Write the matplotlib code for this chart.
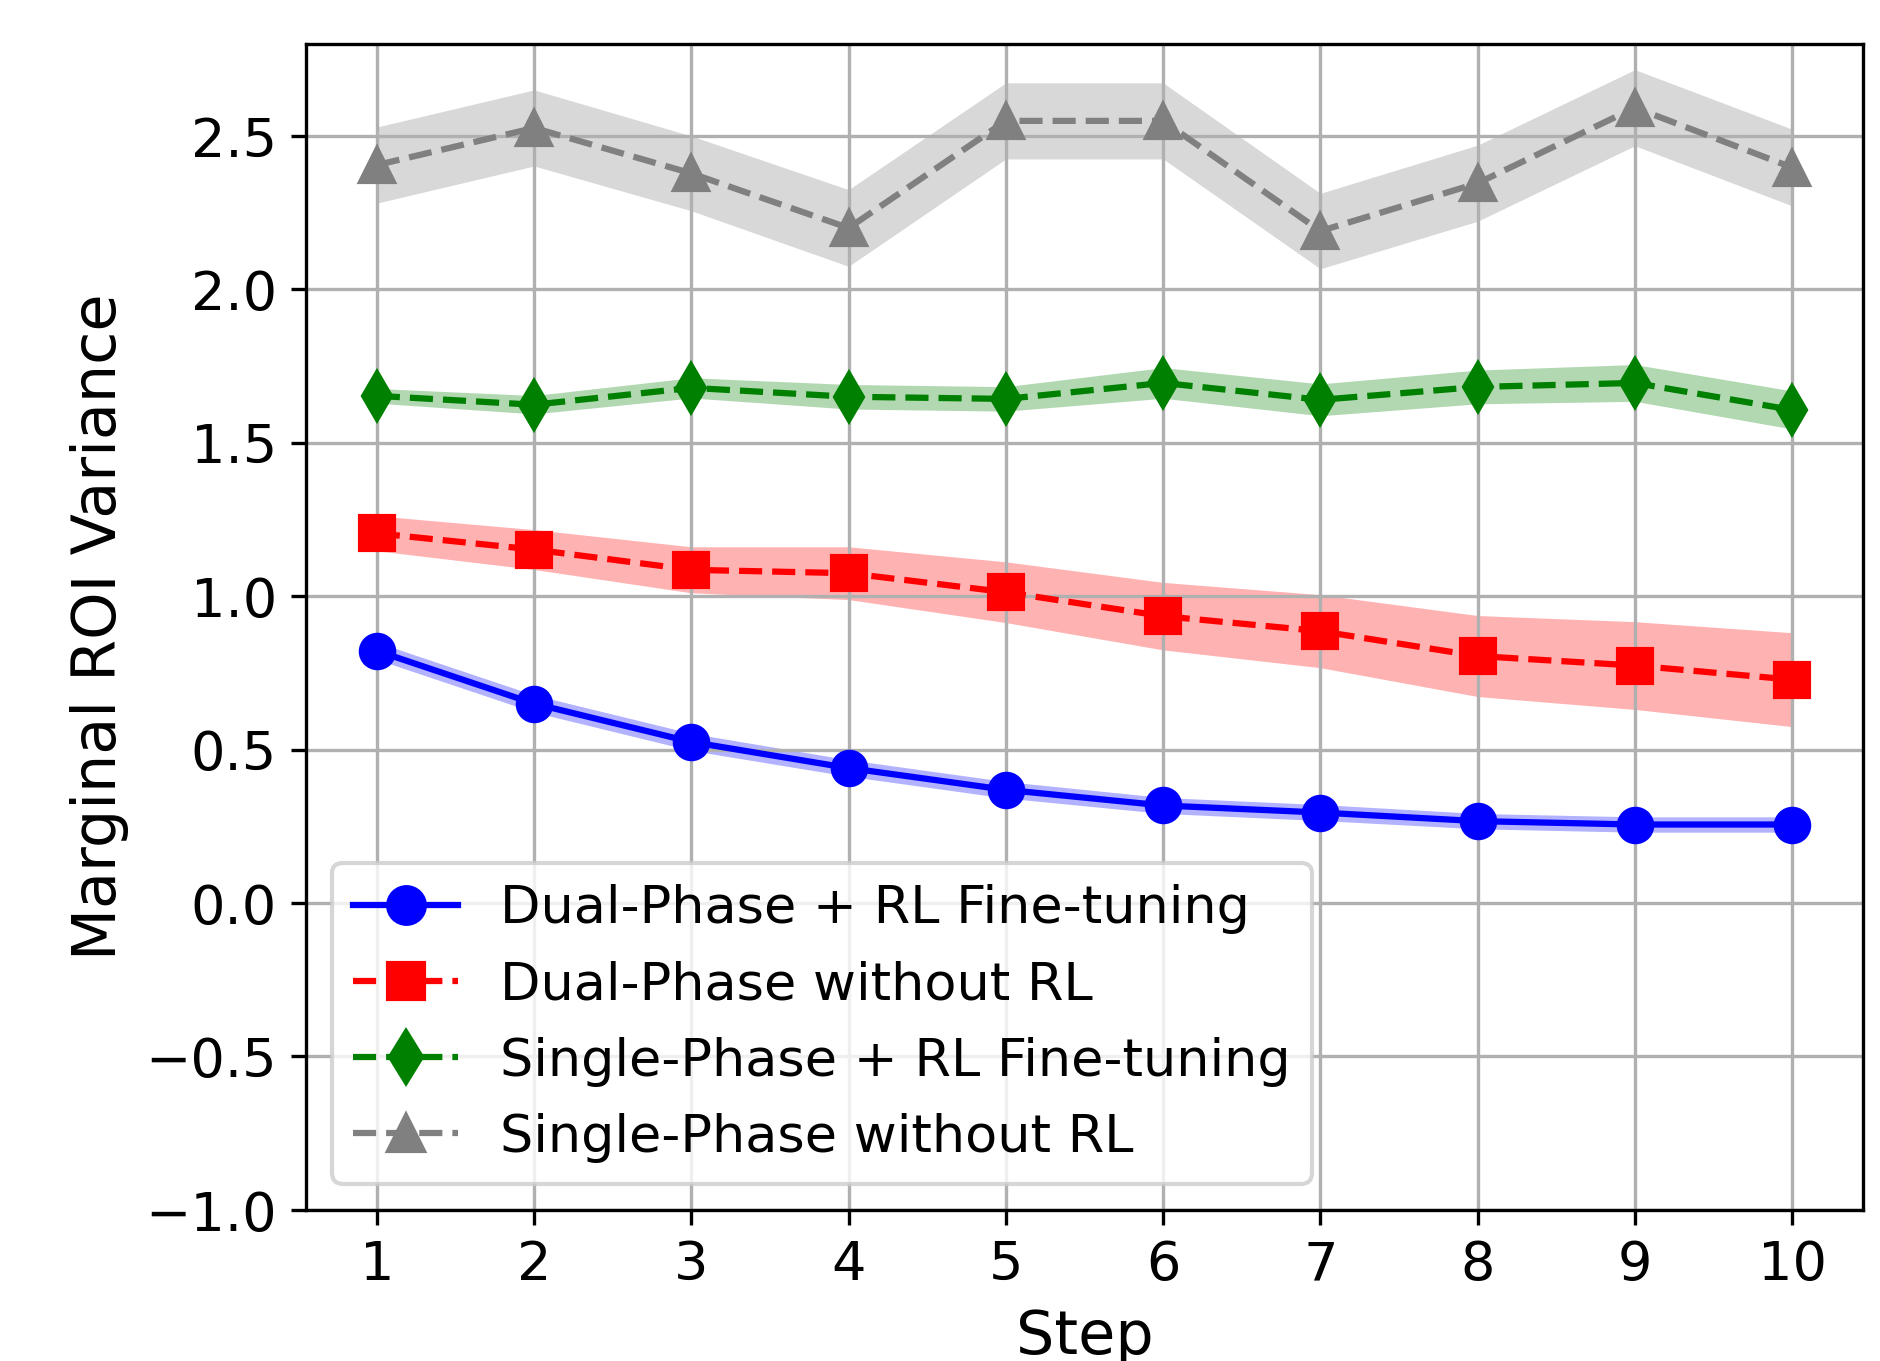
import numpy as np
import matplotlib
matplotlib.use("Agg")
import matplotlib.pyplot as plt

steps = np.arange(1, 11)

dual_rl = [0.822, 0.650, 0.525, 0.440, 0.369, 0.318, 0.295, 0.267, 0.256, 0.256]
dual_rl_std = [0.028, 0.028, 0.028, 0.027, 0.027, 0.026, 0.026, 0.025, 0.025, 0.025]

dual_norl = [1.205, 1.152, 1.086, 1.075, 1.013, 0.935, 0.886, 0.805, 0.774, 0.728]
dual_norl_std = [0.057, 0.065, 0.075, 0.086, 0.099, 0.110, 0.119, 0.132, 0.143, 0.153]

single_rl = [1.653, 1.624, 1.679, 1.650, 1.643, 1.695, 1.640, 1.682, 1.695, 1.607]
single_rl_std = [0.024, 0.030, 0.033, 0.040, 0.040, 0.050, 0.052, 0.055, 0.060, 0.062]

single_norl = [2.405, 2.526, 2.378, 2.200, 2.549, 2.549, 2.190, 2.346, 2.592, 2.397]
single_norl_std = [0.124, 0.124, 0.122, 0.125, 0.124, 0.124, 0.123, 0.124, 0.124, 0.125]

labels = ["Dual-Phase + RL Fine-tuning", "Dual-Phase without RL",
          "Single-Phase + RL Fine-tuning", "Single-Phase without RL"]

fig = plt.figure(figsize=(6.27, 4.537), dpi=300)
ax = fig.add_axes([0.1627, 0.111, 0.9904 - 0.1627, 0.9677 - 0.111])

series = [
    (dual_rl, dual_rl_std, "blue", "o", "-"),
    (dual_norl, dual_norl_std, "red", "s", "--"),
    (single_rl, single_rl_std, "green", "d", "--"),
    (single_norl, single_norl_std, "gray", "^", "--"),
]

for (mean, std, color, marker, ls), label in zip(series, labels):
    mean = np.array(mean)
    std = np.array(std)
    ax.plot(steps, mean, color=color, marker=marker, linestyle=ls,
            linewidth=1.5, markersize=8, label=label)
    ax.fill_between(steps, mean - std, mean + std, color=color, alpha=0.3,
                    linewidth=0)

ax.set_ylim(-1.0, 2.8)
ax.set_xticks(steps)
ax.tick_params(labelsize=13)
ax.set_xlabel("Step", fontsize=14.5)
ax.set_ylabel("Marginal ROI Variance", fontsize=14.5)
ax.grid(True)
ax.legend(loc="lower left", fontsize=12.6, markerscale=1.1)

fig.savefig("out.png", dpi=300)
